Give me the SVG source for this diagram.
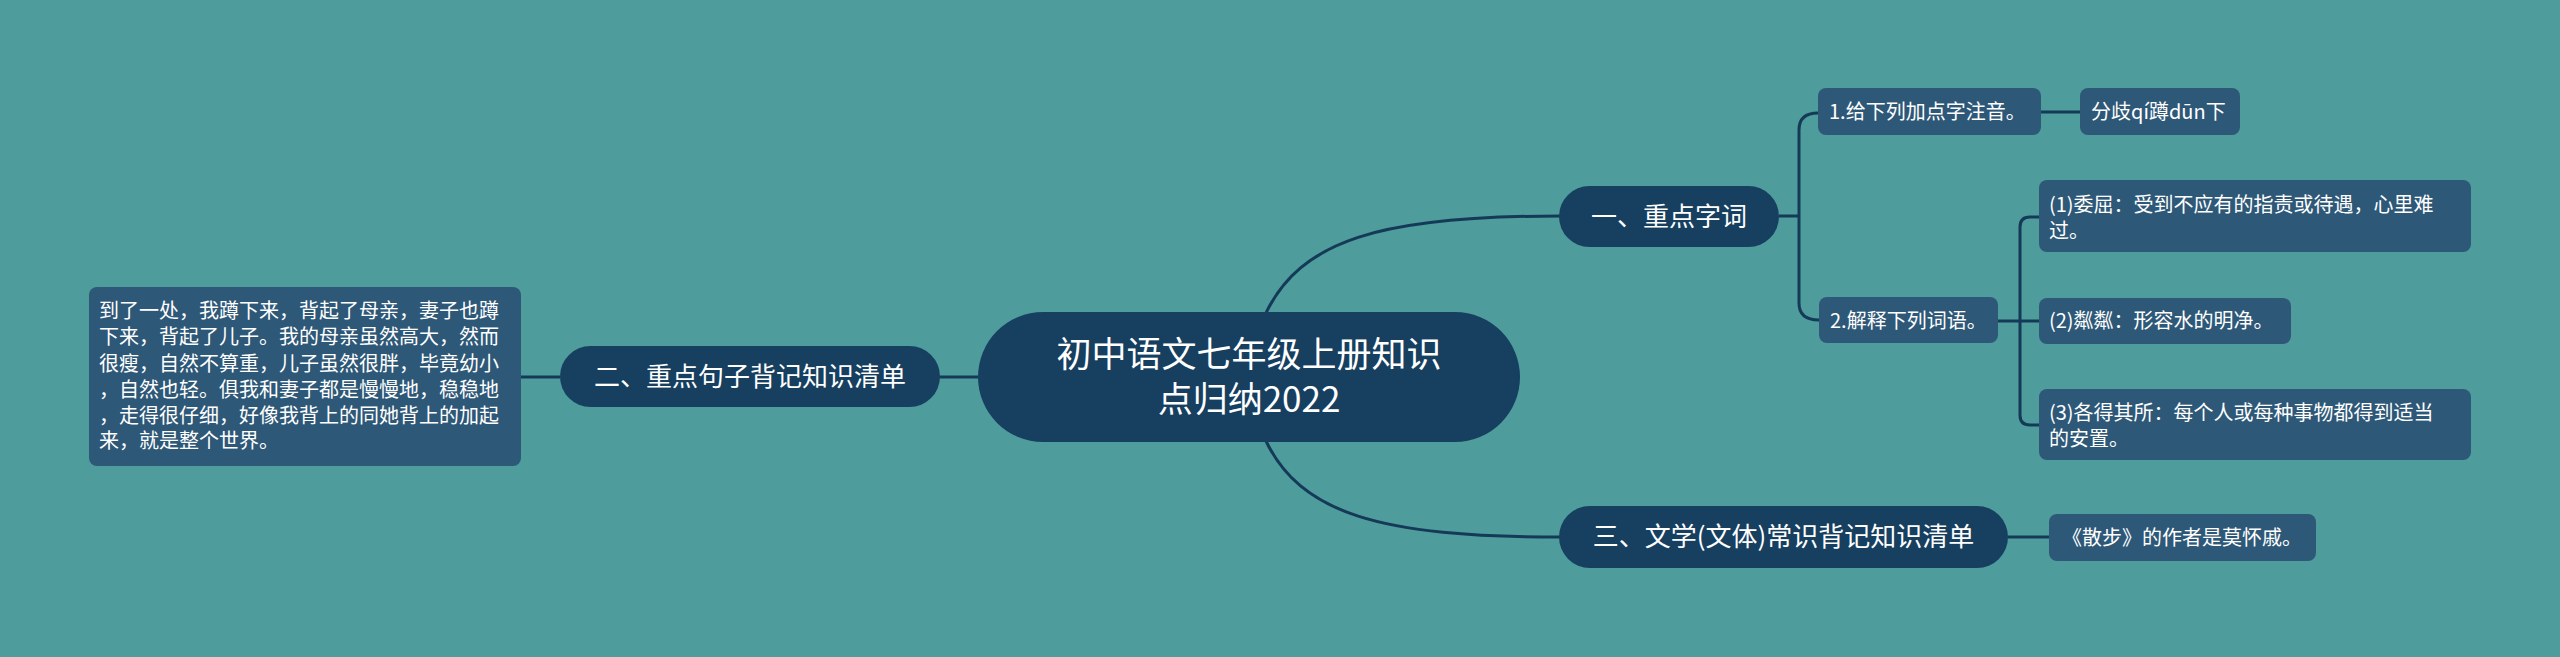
<svg xmlns="http://www.w3.org/2000/svg" width="2560" height="657" viewBox="0 0 2560 657">
<style>
.bg{fill:#4E9C9C}
.main{fill:#173F5F}
.leaf{fill:#2E5878}
.line{fill:none;stroke:#143A58;stroke-width:3}
text{font-family:"Noto Sans CJK SC","Noto Sans",sans-serif;fill:#FFFFFF}
.t34{font-size:35px}
.t26{font-size:26px}
.t20{font-size:20px}
</style>
<rect class="bg" x="0" y="0" width="2560" height="657"/>
<g id="connectors">
<path class="line" d="M1265,315 C1300,240 1380,216 1560,216"/>
<path class="line" d="M1265,439 C1300,514 1380,537 1560,537"/>
<path class="line" d="M978,377 H940"/>
<path class="line" d="M560,377 H521"/>
<path class="line" d="M1779,216 H1799"/>
<path class="line" d="M1799,216 V130 Q1799,113 1818,113"/>
<path class="line" d="M1799,216 V303 Q1799,320 1819,320"/>
<path class="line" d="M2041,112 H2080"/>
<path class="line" d="M1998,321 H2039"/>
<path class="line" d="M2039,217 H2030 Q2020,217 2020,227 V415 Q2020,425 2030,425 H2039"/>
<path class="line" d="M2008,537 H2049"/>
</g>
<g id="root">
<rect class="main" x="978" y="312" width="542" height="130" rx="65"/>
<text class="t34" x="1249" y="367" text-anchor="middle">初中语文七年级上册知识</text>
<text class="t34" x="1249" y="412" text-anchor="middle">点归纳2022</text>
</g>
<g id="n1">
<rect class="main" x="1559" y="186" width="220" height="61" rx="30.5"/>
<text class="t26" x="1669" y="226" text-anchor="middle">一、重点字词</text>
</g>
<g id="n1-1">
<rect class="leaf" x="1818" y="88" width="223" height="47" rx="8"/>
<text class="t20" x="1829" y="119">1.给下列加点字注音。</text>
</g>
<g id="n1-1-1">
<rect class="leaf" x="2080" y="88" width="160" height="47" rx="8"/>
<text class="t20" x="2091" y="119">分歧qí蹲dūn下</text>
</g>
<g id="n1-2">
<rect class="leaf" x="1819" y="297" width="179" height="46" rx="8"/>
<text class="t20" x="1830" y="328">2.解释下列词语。</text>
</g>
<g id="n1-2-1">
<rect class="leaf" x="2039" y="180" width="432" height="72" rx="8"/>
<text class="t20" x="2049" y="212">(1)委屈：受到不应有的指责或待遇，心里难</text>
<text class="t20" x="2049" y="238">过。</text>
</g>
<g id="n1-2-2">
<rect class="leaf" x="2039" y="298" width="252" height="46" rx="8"/>
<text class="t20" x="2049" y="328">(2)粼粼：形容水的明净。</text>
</g>
<g id="n1-2-3">
<rect class="leaf" x="2039" y="389" width="432" height="71" rx="8"/>
<text class="t20" x="2049" y="420">(3)各得其所：每个人或每种事物都得到适当</text>
<text class="t20" x="2049" y="446">的安置。</text>
</g>
<g id="n2">
<rect class="main" x="560" y="346" width="380" height="61" rx="30.5"/>
<text class="t26" x="750" y="386" text-anchor="middle">二、重点句子背记知识清单</text>
</g>
<g id="n2-1">
<rect class="leaf" x="89" y="287" width="432" height="179" rx="8"/>
<text class="t20" x="99" y="318">到了一处，我蹲下来，背起了母亲，妻子也蹲</text>
<text class="t20" x="99" y="344">下来，背起了儿子。我的母亲虽然高大，然而</text>
<text class="t20" x="99" y="371">很瘦，自然不算重，儿子虽然很胖，毕竟幼小</text>
<text class="t20" x="99" y="397">，自然也轻。俱我和妻子都是慢慢地，稳稳地</text>
<text class="t20" x="99" y="423">，走得很仔细，好像我背上的同她背上的加起</text>
<text class="t20" x="99" y="448">来，就是整个世界。</text>
</g>
<g id="n3">
<rect class="main" x="1559" y="506" width="449" height="62" rx="31"/>
<text class="t26" x="1783.5" y="546" text-anchor="middle">三、文学(文体)常识背记知识清单</text>
</g>
<g id="n3-1">
<rect class="leaf" x="2049" y="514" width="267" height="47" rx="8"/>
<text class="t20" x="2062" y="545">《散步》的作者是莫怀戚。</text>
</g>
</svg>
